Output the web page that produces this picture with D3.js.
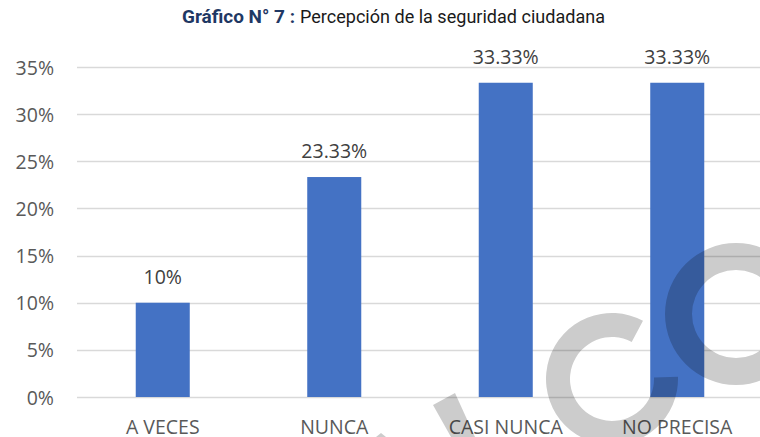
<!DOCTYPE html>
<html>
<head>
<meta charset="utf-8">
<script src="https://cdn.jsdelivr.net/npm/d3@7"></script>
<style>
  html, body { margin: 0; padding: 0; background: #fff; }
  svg { display: block; }
</style>
</head>
<body>
<div id="chart"></div>
<script>
// Chart data
const categories = ['A VECES', 'NUNCA', 'CASI NUNCA', 'NO PRECISA'];
const values = [0.10, 0.2333, 0.3333, 0.3333];
const valueLabels = ['10%', '23.33%', '33.33%', '33.33%'];
const yTicks = [0, 0.05, 0.10, 0.15, 0.20, 0.25, 0.30, 0.35];

const width = 760;
const height = 437;
const margin = { top: 67, right: -3, bottom: 40, left: 77 };

const svg = d3
  .select('#chart')
  .append('svg')
  .attr('width', width)
  .attr('height', height);

const x = d3
  .scaleBand()
  .domain(categories)
  .range([margin.left, width - margin.right])
  .paddingInner(0.685)
  .paddingOuter(0.3425);

const y = d3
  .scaleLinear()
  .domain([0, 0.35])
  .range([height - margin.bottom, margin.top]);

const FONT = "'Open Sans', 'Noto Sans', sans-serif";
const FONT_SIZE = '19.5px';

// Title (condensed look squeezed with textLength)
const title = svg.append('g').attr('class', 'title');
title
  .append('text')
  .attr('x', 182)
  .attr('y', 23)
  .attr('textLength', 113)
  .attr('lengthAdjust', 'spacingAndGlyphs')
  .style('font-family', 'Roboto, sans-serif')
  .style('font-size', '18px')
  .style('font-weight', 700)
  .style('fill', '#1f3864')
  .text('Gráfico N° 7 :');
title
  .append('text')
  .attr('x', 300)
  .attr('y', 23)
  .attr('textLength', 305)
  .attr('lengthAdjust', 'spacingAndGlyphs')
  .style('font-family', 'Roboto, sans-serif')
  .style('font-size', '18px')
  .style('font-weight', 400)
  .style('fill', '#1a1a1a')
  .text('Percepción de la seguridad ciudadana');

// Gridlines
svg
  .append('g')
  .attr('class', 'grid')
  .selectAll('line')
  .data(yTicks)
  .join('line')
  .attr('x1', margin.left)
  .attr('x2', width)
  .attr('y1', (d) => Math.round(y(d)) + 0.5)
  .attr('y2', (d) => Math.round(y(d)) + 0.5)
  .style('stroke', '#d9d9d9')
  .style('stroke-width', 1.3);

// Y axis labels
const yAxis = d3
  .axisLeft(y)
  .tickValues(yTicks)
  .tickSize(0)
  .tickPadding(0)
  .tickFormat((d) => `${Math.round(d * 100)}%`);

svg
  .append('g')
  .attr('transform', 'translate(54,0)')
  .call(yAxis)
  .call((g) => g.select('.domain').remove())
  .call((g) =>
    g
      .selectAll('text')
      .attr('dy', '0.36em')
      .style('font-family', FONT)
      .style('font-size', FONT_SIZE)
      .style('fill', '#595959')
  );

// Bars
svg
  .append('g')
  .attr('class', 'bars')
  .selectAll('rect')
  .data(values)
  .join('rect')
  .attr('x', (d, i) => x(categories[i]))
  .attr('y', (d) => y(d))
  .attr('width', x.bandwidth())
  .attr('height', (d) => y(0) - y(d))
  .style('fill', '#4472c4');

// Value labels
svg
  .append('g')
  .attr('class', 'value-labels')
  .selectAll('text')
  .data(values)
  .join('text')
  .attr('x', (d, i) => x(categories[i]) + x.bandwidth() / 2)
  .attr('y', (d) => y(d) - 19)
  .attr('text-anchor', 'middle')
  .style('font-family', FONT)
  .style('font-size', FONT_SIZE)
  .style('fill', '#404040')
  .text((d, i) => valueLabels[i]);

// X axis labels
const xAxis = d3.axisBottom(x).tickSize(0).tickPadding(0);
svg
  .append('g')
  .attr('transform', `translate(0,${y(0)})`)
  .call(xAxis)
  .call((g) => g.select('.domain').remove())
  .call((g) =>
    g
      .selectAll('text')
      .attr('y', 37)
      .attr('dy', null)
      .style('font-family', FONT)
      .style('font-size', FONT_SIZE)
      .style('fill', '#595959')
  );

// Watermark overlay (semi-transparent grey letters)
const mark = svg.append('g').attr('class', 'watermark').style('fill', '#000').style('opacity', 0.2);
const deg = Math.PI / 180;
mark
  .append('path')
  .attr('transform', 'translate(612,379)')
  .attr('d', d3.arc()({ innerRadius: 42, outerRadius: 66, startAngle: 88 * deg, endAngle: 388 * deg }));
mark
  .append('path')
  .attr('transform', 'translate(736,314)')
  .attr('d', d3.arc()({ innerRadius: 44, outerRadius: 71, startAngle: 0, endAngle: 360 * deg }));
mark
  .append('path')
  .attr('d', d3.line()([[433, 405], [455, 393], [475, 437], [451, 437]]) + 'Z');
mark
  .append('path')
  .attr('d', d3.line()([[376, 437], [381, 433], [386, 437]]) + 'Z');
</script>
</body>
</html>
